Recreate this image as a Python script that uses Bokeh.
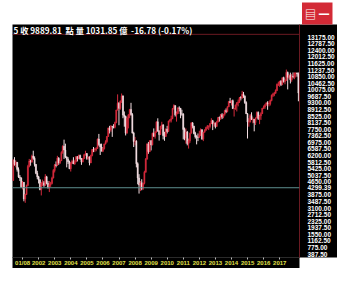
from bokeh.plotting import figure
from bokeh.models import ColumnDataSource, Range1d, FixedTicker, NumeralTickFormatter, Span, Label
from bokeh.embed import file_html
from bokeh.resources import INLINE

# ---- data: TAIEX monthly candles, 2001-01 .. 2018-10 ----
years = list(range(2001, 2019))
n_months = 214

opens = [
    4739, 5936, 5674, 5797, 5381, 4936, 4883, 4352, 4616, 3636, 3903, 4441,
    5551, 5872, 5808, 6167, 6033, 5675, 5153, 4941, 4764, 4191, 4580, 4594,
    4452, 4941, 4555, 4321, 4480, 4556, 4872, 5318, 5650, 5611, 6045, 5771,
    5890, 6375, 6750, 6522, 6117, 5977, 5839, 5420, 5765, 5845, 5706, 5844,
    6139, 5994, 6207, 6006, 5819, 6011, 6241, 6312, 6033, 6119, 5764, 6204,
    6548, 6532, 6561, 6613, 7172, 6846, 6704, 6454, 6611, 6883, 7021, 7321,
    7823, 7699, 7901, 7884, 7875, 8145, 8883, 9287, 8982, 9411, 9711, 8586,
    8506, 7521, 8413, 8572, 8919, 8619, 7523, 7024, 7046, 5719, 4870, 4460,
    4591, 4248, 4557, 5210, 5993, 6890, 6432, 7078, 6826, 7509, 7340, 7582,
    8188, 7640, 7436, 7920, 8004, 7374, 7329, 7760, 7616, 8237, 8287, 8372,
    8972, 9145, 8600, 8683, 9007, 8988, 8652, 8644, 7741, 7225, 7588, 6904,
    7072, 7517, 8121, 7933, 7501, 7302, 7296, 7270, 7397, 7715, 7166, 7580,
    7700, 7850, 7908, 7919, 8093, 8254, 8062, 8107, 7915, 8174, 8450, 8407,
    8612, 8463, 8640, 8849, 8792, 9076, 9393, 9316, 9436, 8966, 8975, 9187,
    9307, 9362, 9622, 9586, 9820, 9701, 9323, 8665, 8175, 8181, 8554, 8320,
    8338, 8145, 8411, 8745, 8377, 8536, 8667, 8985, 9069, 9167, 9290, 9240,
    9254, 9448, 9751, 9812, 9872, 10041, 10395, 10427, 10586, 10384, 10794, 10560,
    10643, 11104, 10815, 10919, 10658, 10875, 10837, 11057, 11064, 11006,
]
highs = [
    5990, 6104, 5900, 5820, 5500, 5050, 4900, 4700, 4640, 3950, 4480, 5650,
    6000, 5950, 6250, 6484, 6150, 5700, 5300, 5000, 4800, 4650, 4780, 4700,
    5100, 5000, 4700, 4700, 4650, 4950, 5400, 5700, 5850, 6182, 6100, 5950,
    6450, 6800, 7135, 6900, 6150, 6100, 5900, 5800, 5950, 6100, 5950, 6150,
    6150, 6250, 6250, 6050, 6050, 6300, 6480, 6350, 6150, 6150, 6250, 6580,
    6700, 6650, 6700, 7200, 7474, 6900, 6900, 6700, 6900, 7100, 7350, 7850,
    7950, 8000, 7950, 8050, 8200, 8900, 9807, 9350, 9450, 9859, 9750, 8800,
    8550, 8450, 8650, 8950, 9309, 8700, 7600, 7300, 7100, 5800, 5100, 4700,
    4800, 4600, 5300, 6050, 6900, 7000, 7100, 7100, 7550, 7800, 7650, 8200,
    8395, 7700, 7950, 8190, 8050, 7600, 7800, 7950, 8250, 8350, 8550, 8990,
    9220, 9150, 8800, 9050, 9100, 9000, 8900, 8700, 7850, 7800, 7650, 7200,
    7550, 8170, 8170, 7950, 7600, 7400, 7500, 7650, 7800, 7750, 7600, 7750,
    7900, 8000, 7980, 8100, 8400, 8300, 8200, 8150, 8250, 8450, 8500, 8650,
    8700, 8650, 8900, 8980, 9100, 9400, 9600, 9450, 9500, 9000, 9200, 9350,
    9500, 9650, 9700, 10014, 9950, 9750, 9400, 8700, 8400, 8650, 8750, 8450,
    8350, 8450, 8800, 8800, 8600, 8750, 9000, 9150, 9250, 9350, 9400, 9400,
    9500, 9800, 9900, 9950, 10100, 10450, 10550, 10600, 10650, 10800, 10850, 10700,
    11270, 11150, 11000, 11090, 11000, 11100, 11100, 11100, 11100, 11100,
]
lows = [
    4700, 5600, 5500, 5250, 4880, 4700, 4300, 4200, 3500, 3411, 3880, 4400,
    5500, 5600, 5800, 5950, 5550, 5100, 4800, 4550, 4150, 3845, 4400, 4350,
    4400, 4500, 4250, 4044, 4350, 4500, 4850, 5200, 5500, 5600, 5650, 5700,
    5880, 6300, 6000, 6050, 5500, 5700, 5400, 5255, 5700, 5700, 5650, 5800,
    5850, 5990, 5950, 5650, 5800, 6000, 6200, 5950, 5950, 5618, 5750, 6150,
    6400, 6400, 6450, 6600, 6750, 6232, 6450, 6400, 6550, 6850, 6950, 7300,
    7500, 7600, 7300, 7800, 7800, 8100, 8850, 7987, 8900, 9300, 8400, 7900,
    7384, 7500, 7800, 8400, 8550, 7500, 6700, 6800, 5500, 4500, 3955, 4100,
    4150, 4164, 4500, 5200, 5950, 6300, 6400, 6500, 6800, 7300, 7200, 7550,
    7600, 7080, 7420, 7750, 7150, 7070, 7300, 7500, 7600, 8150, 8150, 8350,
    8900, 8500, 8200, 8650, 8800, 8400, 8550, 7150, 7100, 6900, 6800, 6609,
    6950, 7500, 7800, 7450, 7200, 6857, 7050, 7250, 7350, 7150, 7050, 7550,
    7650, 7750, 7700, 7800, 8050, 7700, 7900, 7800, 7900, 8150, 8200, 8300,
    8350, 8400, 8550, 8700, 8750, 9050, 9300, 9150, 8950, 8500, 8900, 8800,
    9100, 9300, 9450, 9550, 9600, 9250, 8650, 7203, 7900, 8150, 8300, 8100,
    7627, 8000, 8400, 8300, 8050, 8300, 8650, 8950, 8950, 9150, 8900, 9100,
    9150, 9400, 9650, 9700, 9850, 10000, 10300, 10250, 10300, 10350, 10500, 10400,
    10600, 10100, 10700, 10450, 10550, 10750, 10700, 10800, 10850, 9400,
]
closes = [
    5936, 5674, 5797, 5381, 4936, 4883, 4352, 4616, 3636, 3903, 4441, 5551,
    5872, 5808, 6167, 6033, 5675, 5153, 4941, 4764, 4191, 4580, 4594, 4452,
    4941, 4555, 4321, 4480, 4556, 4872, 5318, 5650, 5611, 6045, 5771, 5890,
    6375, 6750, 6522, 6117, 5977, 5839, 5420, 5765, 5845, 5706, 5844, 6139,
    5994, 6207, 6006, 5819, 6011, 6241, 6312, 6033, 6119, 5764, 6204, 6548,
    6532, 6561, 6613, 7172, 6846, 6704, 6454, 6611, 6883, 7021, 7321, 7823,
    7699, 7901, 7884, 7875, 8145, 8883, 9287, 8982, 9411, 9711, 8586, 8506,
    7521, 8413, 8572, 8919, 8619, 7523, 7024, 7046, 5719, 4870, 4460, 4591,
    4248, 4557, 5210, 5993, 6890, 6432, 7078, 6826, 7509, 7340, 7582, 8188,
    7640, 7436, 7920, 8004, 7374, 7329, 7760, 7616, 8237, 8287, 8372, 8972,
    9145, 8600, 8683, 9007, 8988, 8652, 8644, 7741, 7225, 7588, 6904, 7072,
    7517, 8121, 7933, 7501, 7302, 7296, 7270, 7397, 7715, 7166, 7580, 7700,
    7850, 7908, 7919, 8093, 8254, 8062, 8107, 7915, 8174, 8450, 8407, 8612,
    8463, 8640, 8849, 8792, 9076, 9393, 9316, 9436, 8966, 8975, 9187, 9307,
    9362, 9622, 9586, 9820, 9701, 9323, 8665, 8175, 8181, 8554, 8320, 8338,
    8145, 8411, 8745, 8377, 8536, 8667, 8985, 9069, 9167, 9290, 9240, 9254,
    9448, 9751, 9812, 9872, 10041, 10395, 10427, 10586, 10384, 10794, 10560, 10643,
    11104, 10815, 10919, 10658, 10875, 10837, 11057, 11064, 11006, 9889,
]

y_tick_step = 387.5
y_tick_count = 34
ref_level = 4299.39
tick_years = list(range(2001, 2018))
first_tick_label = "01/08"
header = "5 收 9889.81\u00a0 點 量 1031.85 億\u00a0 -16.78 (-0.17%)"
button_text = "▤ 一"

# ---- build ----
xs = [y + (m - 0.5) / 12 for y in years for m in range(1, 13)][:n_months]
up_color, down_color = "#d42a3c", "#f2dde1"
colors = [up_color if c >= o else down_color for o, c in zip(opens, closes)]
src = ColumnDataSource(dict(x=xs, o=opens, h=highs, l=lows, c=closes, color=colors))

X0, X1 = 2001.0, 2018.86
Y0, Y1 = 184, 13929
maroon = "#6a1a22"
p = figure(width=337, height=268, output_backend="svg", toolbar_location=None,
           x_range=Range1d(X0, X1), y_range=Range1d(Y0, Y1),
           y_axis_location="right",
           min_border_left=12, min_border_right=32, min_border_top=22, min_border_bottom=9)
p.background_fill_color = "black"
p.border_fill_color = "white"
p.outline_line_color = None
p.grid.visible = False

# red button as a right-aligned title above the frame
p.title.text = button_text
p.title.align = "right"
p.title.offset = -33
p.title.standoff = 0
p.title.text_color = "white"
p.title.text_font = "Noto Sans CJK TC"
p.title.text_font_style = "bold"
p.title.text_font_size = "11px"
p.title.background_fill_color = "#d32a36"
p.title.padding = 3

p.segment(x0="x", y0="l", x1="x", y1="h", color="color", line_width=1, source=src)
p.vbar(x="x", width=0.8 / 12, top="o", bottom="c", fill_color="color", line_color="color",
       line_width=0.5, source=src)

# y axis (right)
yt = [round(y_tick_step * k, 2) for k in range(1, y_tick_count + 1)]
yt = [t for t in yt if abs(t - ref_level) > y_tick_step / 2] + [ref_level]
ya = p.yaxis[0]
ya.ticker = FixedTicker(ticks=yt)
ya.formatter = NumeralTickFormatter(format="0.00")
ya.major_label_text_color = "white"
ya.major_label_text_font = "Liberation Sans"
ya.major_label_text_font_style = "bold"
ya.major_label_text_font_size = "6.5px"
ya.major_label_standoff = 2
ya.major_tick_line_color = None
ya.minor_tick_line_color = None
ya.axis_line_color = maroon
ya.background_fill_color = "black"

# x axis
xt = [round(y + 0.63, 2) for y in tick_years]
xa = p.xaxis[0]
xa.ticker = FixedTicker(ticks=xt)
xa.major_label_overrides = {t: (first_tick_label if y == tick_years[0] else str(y)) for t, y in zip(xt, tick_years)}
xa.major_label_text_color = "#e2e24a"
xa.major_label_text_font = "Liberation Sans"
xa.major_label_text_font_style = "bold"
xa.major_label_text_font_size = "6px"
xa.major_label_standoff = 0
xa.major_tick_out = 2
xa.major_tick_in = 0
xa.major_tick_line_color = "#bbbbbb"
xa.minor_tick_line_color = None
xa.axis_line_color = "#2a2a2a"
xa.background_fill_color = "black"

# reference line
p.add_layout(Span(location=ref_level, dimension="width", line_color="#5e8f8f", line_width=1))

# header band separator + header text (inside the black frame)
p.add_layout(Span(location=Y1 - 10 * (Y1 - Y0) / 237, dimension="width", line_color=maroon, line_width=1))
p.add_layout(Label(x=X0, y=Y1, x_offset=1, y_offset=-5, text=header, text_color="white",
                   text_font="Noto Sans CJK TC", text_font_style="bold", text_font_size="8.2px",
                   text_baseline="middle", text_align="left"))

open("out.html", "w").write(file_html(p, INLINE))
